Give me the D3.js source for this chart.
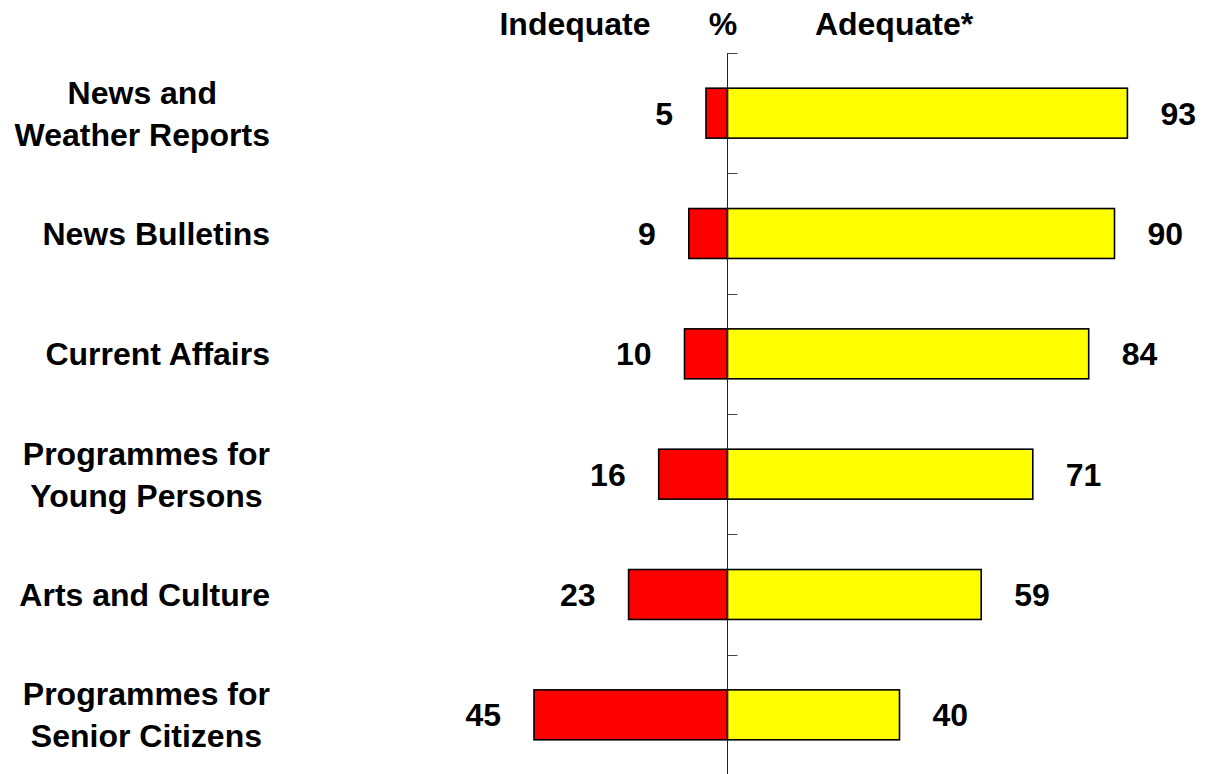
<!DOCTYPE html>
<html>
<head>
<meta charset="utf-8">
<script src="https://cdn.jsdelivr.net/npm/d3@7"></script>
<style>
  html, body { margin: 0; padding: 0; background: #fff; }
  svg { display: block; }
  text { font-family: Arial, "Liberation Sans", sans-serif; font-weight: bold; fill: #000; }
</style>
</head>
<body>
<svg id="chart" width="1205" height="774"></svg>
<script>
// Programme categories (multi-line labels split with "\n")
const categories = [
  "News and\nWeather Reports",
  "News Bulletins",
  "Current Affairs",
  "Programmes for\nYoung Persons",
  "Arts and Culture",
  "Programmes for\nSenior Citizens"
];
// Percentage rating the provision inadequate / adequate
const inadequate = [5, 9, 10, 16, 23, 45];
const adequate = [93, 90, 84, 71, 59, 40];
// Column headings
const headings = ["Indequate", "%", "Adequate*"];

const svg = d3.select("#chart");
const fontSize = 32;

const x = d3.scaleLinear().domain([-100, 100]).range([297.5, 1157.5]);
const y = d3.scaleBand()
  .domain(categories)
  .range([53, 775])
  .paddingInner(0.585)
  .paddingOuter(0.2925);

const rows = categories.map((c, i) => ({ cat: c, neg: inadequate[i], pos: adequate[i] }));

// Bars: inadequate to the left of zero, adequate to the right
svg.append("g").selectAll("rect")
  .data(rows).join("rect")
  .attr("x", d => x(-d.neg))
  .attr("y", d => y(d.cat))
  .attr("width", d => x(0) - x(-d.neg))
  .attr("height", y.bandwidth())
  .attr("fill", "#ff0000")
  .attr("stroke", "#000")
  .attr("stroke-width", 1.6);

svg.append("g").selectAll("rect")
  .data(rows).join("rect")
  .attr("x", x(0))
  .attr("y", d => y(d.cat))
  .attr("width", d => x(d.pos) - x(0))
  .attr("height", y.bandwidth())
  .attr("fill", "#ffff00")
  .attr("stroke", "#000")
  .attr("stroke-width", 1.6);

// Central category axis with ticks at band boundaries
const axisG = svg.append("g");
axisG.append("line")
  .attr("x1", x(0)).attr("x2", x(0))
  .attr("y1", y.range()[0]).attr("y2", y.range()[1])
  .attr("stroke", "#222").attr("stroke-width", 1);
axisG.selectAll("line.tick")
  .data(categories).join("line")
  .attr("class", "tick")
  .attr("x1", x(0)).attr("x2", x(0) + 10)
  .attr("y1", d => Math.round(y(d) - y.step() * y.paddingOuter()) + 0.5)
  .attr("y2", d => Math.round(y(d) - y.step() * y.paddingOuter()) + 0.5)
  .attr("stroke", "#444").attr("stroke-width", 1);

// Value labels
const gap = 33;
svg.append("g").selectAll("text")
  .data(rows).join("text")
  .attr("x", d => x(d.pos) + gap)
  .attr("y", d => y(d.cat) + y.bandwidth() / 2)
  .attr("dy", "0.36em")
  .attr("font-size", fontSize)
  .attr("text-anchor", "start")
  .text(d => d.pos);

svg.append("g").selectAll("text")
  .data(rows).join("text")
  .attr("x", d => x(-d.neg) - gap)
  .attr("y", d => y(d.cat) + y.bandwidth() / 2)
  .attr("dy", "0.36em")
  .attr("font-size", fontSize)
  .attr("text-anchor", "end")
  .text(d => d.neg);

// Category labels: block right-aligned, lines centred within it
const labelRight = 270;
const lineH = 42;
rows.forEach(d => {
  const lines = d.cat.split("\n");
  const cy = y(d.cat) + y.bandwidth() / 2;
  const t = svg.append("text")
    .attr("font-size", fontSize)
    .attr("text-anchor", "middle");
  lines.forEach((ln, j) => {
    t.append("tspan")
      .attr("y", cy + (j - (lines.length - 1) / 2) * lineH)
      .attr("dy", "0.36em")
      .text(ln);
  });
  let maxW = 0;
  t.selectAll("tspan").each(function () {
    maxW = Math.max(maxW, this.getComputedTextLength());
  });
  t.selectAll("tspan").attr("x", labelRight - maxW / 2);
});

// Headings
const headX = [575, 723, 894];
svg.append("g").selectAll("text")
  .data(headings).join("text")
  .attr("x", (d, i) => headX[i])
  .attr("y", 35)
  .attr("font-size", fontSize)
  .attr("font-weight", (d, i) => i === 1 ? "normal" : "bold")
  .attr("text-anchor", "middle")
  .text(d => d);
</script>
</body>
</html>
